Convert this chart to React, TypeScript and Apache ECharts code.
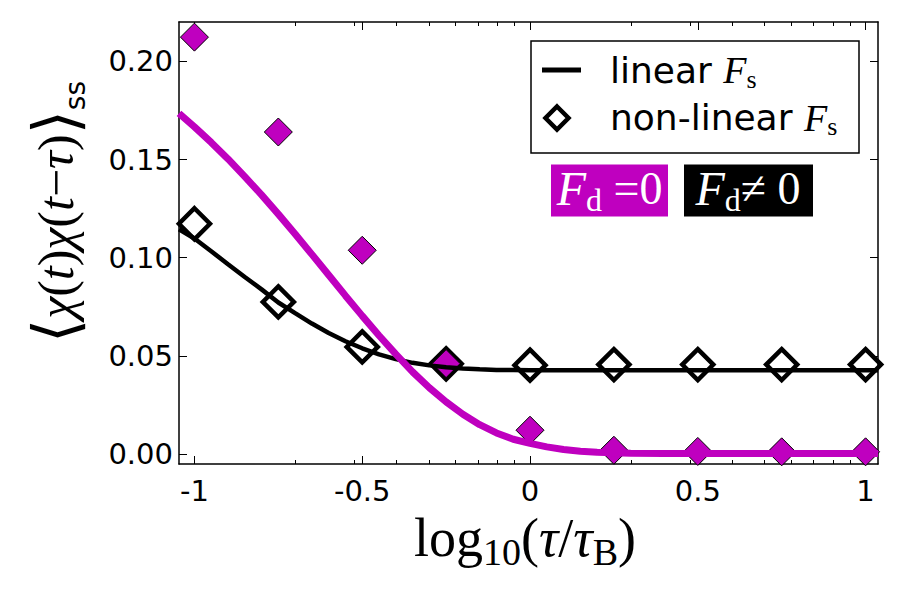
import React, { useEffect, useRef } from "react";
import * as echarts from "echarts";

const PURPLE = "#bf00bf";

const xMin = -1.046;
const xMax = 1.037;
const yMin = -0.005;
const yMax = 0.22;

const xMajorTicks = [-1, -0.5, 0, 0.5, 1];
const tauMinorTicks = [0.2, 0.3, 0.4, 0.5, 0.6, 0.7, 0.8, 0.9, 2, 3, 4, 5, 6, 7, 8, 9];
const yMajorTicks = [0, 0.05, 0.1, 0.15, 0.2];

// non-linear F_s points (diamonds)
const pointX = [-1, -0.75, -0.5, -0.25, 0, 0.25, 0.5, 0.75, 1];
const nonlinearFd0 = [0.2123, 0.164, 0.1038, 0.0461, 0.0122, 0.002, 0.0014, 0.0012, 0.0012];
const nonlinearFdNe0 = [0.1173, 0.0775, 0.0546, 0.046, 0.0453, 0.0456, 0.0456, 0.0456, 0.0456];

// linear F_s curves
const curveX = [
  -1.046, -1, -0.95, -0.9, -0.85, -0.8, -0.75, -0.7, -0.65, -0.6, -0.55, -0.5, -0.45, -0.4,
  -0.35, -0.3, -0.25, -0.2, -0.15, -0.1, -0.05, 0, 0.05, 0.1, 0.15, 0.2, 0.25, 0.3, 0.4, 0.5,
  0.6, 0.7, 0.8, 0.9, 1.037,
];
const linearFd0 = [
  0.1735, 0.1666, 0.1587, 0.1503, 0.1413, 0.132, 0.1222, 0.1121, 0.1017, 0.0912, 0.0807,
  0.0704, 0.0604, 0.0509, 0.0419, 0.0338, 0.0266, 0.0203, 0.015, 0.0108, 0.0076, 0.0055,
  0.0037, 0.0024, 0.0015, 0.001, 0.0007, 0.0005, 0.0004, 0.0004, 0.0004, 0.0004, 0.0004,
  0.0004, 0.0004,
];
const linearFdNe0 = [
  0.1145, 0.1098, 0.1033, 0.0967, 0.0902, 0.0839, 0.0772, 0.0718, 0.0665, 0.0617, 0.0575,
  0.0539, 0.0508, 0.0484, 0.0465, 0.0452, 0.0442, 0.0436, 0.0432, 0.0429, 0.0428, 0.0427,
  0.0427, 0.0427, 0.0427, 0.0427, 0.0427, 0.0427, 0.0427, 0.0427, 0.0427, 0.0427, 0.0427,
  0.0427, 0.0427,
];

const xMinorTicks = tauMinorTicks.map((t) => Math.log10(t));

const SERIF = "'Liberation Serif', 'DejaVu Serif', serif";
const SANS = "'DejaVu Sans', sans-serif";

function xAxisDef(position: string, ticks: number[], len: number, showLine: boolean, showLabel: boolean) {
  return {
    type: "value",
    min: xMin,
    max: xMax,
    position,
    axisLine: { show: showLine, onZero: false, lineStyle: { color: "#000", width: 1.5 } },
    axisTick: { show: true, inside: true, length: len, customValues: ticks, lineStyle: { color: "#000", width: 1 } },
    axisLabel: showLabel
      ? {
          show: true,
          customValues: ticks,
          margin: 12,
          fontSize: 29,
          fontFamily: SANS,
          color: "#000",
          formatter: (v: number) => String(v),
        }
      : { show: false },
    splitLine: { show: false },
  };
}

function yAxisDef(position: string, showLabel: boolean) {
  return {
    type: "value",
    min: yMin,
    max: yMax,
    position,
    axisLine: { show: true, onZero: false, lineStyle: { color: "#000", width: 1.5 } },
    axisTick: { show: true, inside: true, length: 8, customValues: yMajorTicks, lineStyle: { color: "#000", width: 1 } },
    axisLabel: showLabel
      ? {
          show: true,
          customValues: yMajorTicks,
          margin: 6,
          fontSize: 29,
          fontFamily: SANS,
          color: "#000",
          formatter: (v: number) => v.toFixed(2),
        }
      : { show: false },
    splitLine: { show: false },
  };
}

export default function App() {
  const ref = useRef<HTMLDivElement>(null);
  useEffect(() => {
    if (!ref.current) return;
    const chart = echarts.init(ref.current, null, { renderer: "svg" });
    const option = {
      animation: false,
      backgroundColor: "#fff",
      grid: { left: 179, top: 22, right: 22, bottom: 136, containLabel: false },
      xAxis: [
        xAxisDef("bottom", xMajorTicks, 8, true, true),
        xAxisDef("bottom", xMinorTicks, 4, false, false),
        xAxisDef("top", xMajorTicks, 8, true, false),
        xAxisDef("top", xMinorTicks, 4, false, false),
      ],
      yAxis: [yAxisDef("left", true), yAxisDef("right", false)],
      series: [
        {
          name: "linear Fs, Fd≠0",
          type: "line",
          data: curveX.map((x, i) => [x, linearFdNe0[i]]),
          showSymbol: false,
          lineStyle: { color: "#000", width: 4.5, opacity: 1 },
          itemStyle: { color: "#000" },
        },
        {
          name: "non-linear Fs, Fd≠0",
          type: "scatter",
          data: pointX.map((x, i) => [x, nonlinearFdNe0[i]]),
          symbol: "diamond",
          symbolSize: 31,
          itemStyle: { color: "rgba(0,0,0,0)", borderColor: "#000", borderWidth: 4.5, opacity: 1 },
        },
        {
          name: "linear Fs, Fd=0",
          type: "line",
          data: curveX.map((x, i) => [x, linearFd0[i]]),
          showSymbol: false,
          lineStyle: { color: PURPLE, width: 7, opacity: 1 },
          itemStyle: { color: PURPLE },
        },
        {
          name: "non-linear Fs, Fd=0",
          type: "scatter",
          data: pointX.map((x, i) => [x, nonlinearFd0[i]]),
          symbol: "diamond",
          symbolSize: 28,
          itemStyle: { color: PURPLE, borderColor: "#000", borderWidth: 1, opacity: 1 },
        },
      ],
      graphic: [
        // y-axis title
        {
          type: "text",
          x: 56,
          y: 212,
          rotation: Math.PI / 2,
          style: {
            text: "{b|⟨}{i|χ}{r|(}{i|t}{r|)}{i|χ}{r|(}{i|t}{r|−}{i|τ}{r|)}{b|⟩}{s|ss}",
            align: "center",
            verticalAlign: "middle",
            fill: "#000",
            rich: {
              b: { fontFamily: SERIF, fontSize: 62, lineHeight: 66, fill: "#000" },
              i: { fontFamily: SERIF, fontStyle: "italic", fontSize: 50, lineHeight: 66, fill: "#000" },
              r: { fontFamily: SERIF, fontSize: 50, lineHeight: 66, fill: "#000" },
              s: { fontFamily: SANS, fontSize: 28, lineHeight: 24, verticalAlign: "bottom", fill: "#000" },
            },
          },
        },
        // x-axis title
        {
          type: "text",
          x: 525,
          y: 538,
          style: {
            text: "{r|log}{s|10}{r|(}{i|τ}{r|/}{i|τ}{s|B}{r|)}",
            align: "center",
            verticalAlign: "middle",
            fill: "#000",
            rich: {
              r: { fontFamily: SERIF, fontSize: 54, lineHeight: 66, fill: "#000" },
              i: { fontFamily: SERIF, fontStyle: "italic", fontSize: 54, lineHeight: 66, fill: "#000" },
              s: { fontFamily: SERIF, fontSize: 38, lineHeight: 30, verticalAlign: "bottom", fill: "#000" },
            },
          },
        },
        // legend box
        {
          type: "rect",
          shape: { x: 531, y: 41, width: 328, height: 112 },
          style: { fill: "#fff", stroke: "#000", lineWidth: 1.5 },
          z: 10,
        },
        {
          type: "line",
          shape: { x1: 542, y1: 70, x2: 581, y2: 70 },
          style: { stroke: "#000", lineWidth: 5 },
          z: 11,
        },
        {
          type: "polygon",
          shape: { points: [[557, 106.5], [568.5, 118], [557, 129.5], [545.5, 118]] },
          style: { fill: "none", stroke: "#000", lineWidth: 4.5 },
          z: 11,
        },
        {
          type: "text",
          x: 610,
          y: 70,
          z: 11,
          style: {
            text: "{t|linear }{f|F}{s|s}",
            verticalAlign: "middle",
            rich: {
              t: { fontFamily: SANS, fontSize: 36, lineHeight: 44, fill: "#000" },
              f: { fontFamily: SERIF, fontStyle: "italic", fontSize: 38, lineHeight: 44, fill: "#000" },
              s: { fontFamily: SERIF, fontSize: 26, lineHeight: 24, verticalAlign: "bottom", fill: "#000" },
            },
          },
        },
        {
          type: "text",
          x: 610,
          y: 117.5,
          z: 11,
          style: {
            text: "{t|non-linear }{f|F}{s|s}",
            verticalAlign: "middle",
            rich: {
              t: { fontFamily: SANS, fontSize: 36, lineHeight: 44, fill: "#000" },
              f: { fontFamily: SERIF, fontStyle: "italic", fontSize: 38, lineHeight: 44, fill: "#000" },
              s: { fontFamily: SERIF, fontSize: 26, lineHeight: 24, verticalAlign: "bottom", fill: "#000" },
            },
          },
        },
        // F_d labels
        {
          type: "rect",
          shape: { x: 551, y: 164.5, width: 117, height: 52 },
          style: { fill: PURPLE },
          z: 10,
        },
        {
          type: "rect",
          shape: { x: 684, y: 164.5, width: 129, height: 52 },
          style: { fill: "#000" },
          z: 10,
        },
        {
          type: "text",
          x: 609.5,
          y: 188,
          z: 11,
          style: {
            text: "{f|F}{s|d}{r| =0}",
            align: "center",
            verticalAlign: "middle",
            rich: {
              f: { fontFamily: SERIF, fontStyle: "italic", fontSize: 48, lineHeight: 56, fill: "#fff" },
              r: { fontFamily: SERIF, fontSize: 46, lineHeight: 56, fill: "#fff" },
              s: { fontFamily: SERIF, fontSize: 32, lineHeight: 30, verticalAlign: "bottom", fill: "#fff" },
            },
          },
        },
        {
          type: "text",
          x: 748,
          y: 188,
          z: 11,
          style: {
            text: "{f|F}{s|d}{r|≠ 0}",
            align: "center",
            verticalAlign: "middle",
            rich: {
              f: { fontFamily: SERIF, fontStyle: "italic", fontSize: 48, lineHeight: 56, fill: "#fff" },
              r: { fontFamily: SERIF, fontSize: 46, lineHeight: 56, fill: "#fff" },
              s: { fontFamily: SERIF, fontSize: 32, lineHeight: 30, verticalAlign: "bottom", fill: "#fff" },
            },
          },
        },
      ],
    };
    chart.setOption(option as any);
    return () => chart.dispose();
  }, []);
  return (
    <div
      ref={ref}
      style={{ position: "fixed", left: 0, top: 0, width: 900, height: 600, background: "#fff" }}
    />
  );
}
